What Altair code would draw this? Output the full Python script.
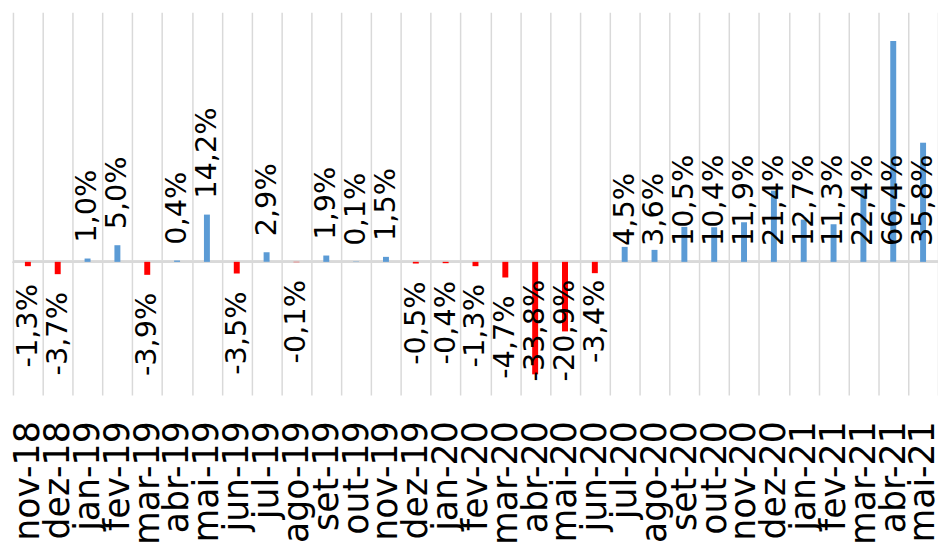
import altair as alt
import pandas as pd

meses = ["nov-18", "dez-18", "jan-19", "fev-19", "mar-19", "abr-19", "mai-19",
         "jun-19", "jul-19", "ago-19", "set-19", "out-19", "nov-19", "dez-19",
         "jan-20", "fev-20", "mar-20", "abr-20", "mai-20", "jun-20", "jul-20",
         "ago-20", "set-20", "out-20", "nov-20", "dez-20", "jan-21", "fev-21",
         "mar-21", "abr-21", "mai-21"]
variacao = [-1.3, -3.7, 1.0, 5.0, -3.9, 0.4, 14.2,
            -3.5, 2.9, -0.1, 1.9, 0.1, 1.5, -0.5,
            -0.4, -1.3, -4.7, -33.8, -20.9, -3.4, 4.5,
            3.6, 10.5, 10.4, 11.9, 21.4, 12.7, 11.3,
            22.4, 66.4, 35.8]
rotulos = [f"{v:.1f}".replace(".", ",") + "%" for v in variacao]

# from this month on, the data labels sit at the base of the bar
inicio_base = meses.index("abr-20")

df = pd.DataFrame({"mes": meses, "v": variacao, "rotulo": rotulos,
                   "ordem": list(range(len(meses)))})

FONT = "DejaVu Sans"
FS = 29
y_scale = alt.Scale(domain=[-40, 75], nice=False)

x_enc = alt.X("mes:N", sort=meses,
              scale=alt.Scale(paddingInner=0, paddingOuter=0),
              axis=alt.Axis(title=None, labelAngle=270, labelAlign="right",
                            labelBaseline="middle", labelFont=FONT,
                            labelFontSize=35, labelColor="black",
                            labelPadding=26, ticks=False, tickSize=0,
                            domain=False, grid=True, tickBand="extent",
                            gridColor="#D9D9D9", gridWidth=1.5,
                            labelOverlap=False))

base = alt.Chart(df).encode(x=x_enc)

zero = alt.Chart(df).mark_rule(color="#D9D9D9", strokeWidth=2).encode(
    y=alt.Y(datum=0, scale=y_scale, axis=None))

bars = base.mark_bar(size=6).encode(
    y=alt.Y("v:Q", scale=y_scale, axis=None),
    color=alt.condition("datum.v < 0", alt.value("#FF0000"), alt.value("#5B9BD5")),
)

lbl = base.transform_calculate(
    ly=f"datum.ordem >= {inicio_base} ? 0 : datum.v")

pos = lbl.transform_filter("datum.v >= 0").mark_text(
    angle=270, align="left", baseline="middle", dx=16,
    font=FONT, fontSize=FS, color="black").encode(
    y=alt.Y("ly:Q", scale=y_scale, axis=None), text="rotulo:N")

neg = lbl.transform_filter("datum.v < 0").mark_text(
    angle=270, align="right", baseline="middle", dx=-18,
    font=FONT, fontSize=FS, color="black").encode(
    y=alt.Y("ly:Q", scale=y_scale, axis=None), text="rotulo:N")

chart = alt.layer(zero, bars, pos, neg).properties(
    width=933, height=386,
    autosize=alt.AutoSizeParams(type="none"),
    padding={"left": 5, "top": 2, "right": 0, "bottom": 146},
    background="white",
).configure_view(stroke=None)

chart.save("out.html", embed_options={"renderer": "svg", "actions": False})
